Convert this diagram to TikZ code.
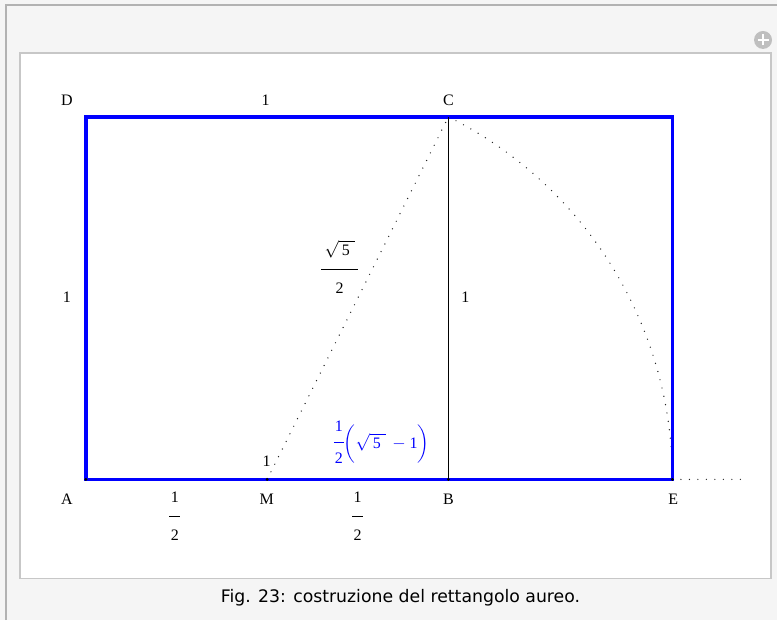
\documentclass[tikz,border=0pt]{standalone}
\usepackage{amsmath, amssymb}
\usepackage{xcolor}
\usepackage{fontspec}
\setmainfont{Liberation Serif}
\newfontfamily\captionfont{DejaVu Sans}
\usepackage{tikz}

% fraction set in three rows, bar in the middle one
\newcommand{\stackfrac}[4][1]{{\renewcommand{\arraystretch}{#1}%
  \begin{tabular}{@{}c@{}}#2\\\rule[0.3em]{#4}{0.6pt}\\#3\end{tabular}}}
\newcommand{\rootfive}{\sqrt{\,\text{5}\;}}

\begin{document}
\begin{tikzpicture}[x=1pt,y=1pt,
    lbl/.style={font=\fontsize{16}{19}\selectfont, inner sep=0pt},
    gold/.style={draw=blue, line width=3.5pt},
    dots/.style={line width=1.4pt, line cap=round, dash pattern=on 0pt off 8.5pt, black!85},
    vertex/.style={circle, fill=black, inner sep=0pt, minimum size=3.2pt}]
				% page frame
				\fill[black!4] (0,0) rectangle (778,621);
				\draw[black!30, line width=2pt] (6,0) -- (6,616) -- (778,616);
				\draw[black!22, fill=white, line width=1.5pt] (20,42) rectangle (772,568);
				\fill[black!25] (764,581) circle (9);
				\draw[white, line width=2.6pt] (758.5,581) -- (769.5,581) (764,575.5) -- (764,586.5);
				\node[font=\captionfont\fontsize{17.3}{20}\selectfont] (caption) at (401,23) {Fig. 23: costruzione del rettangolo aureo.};
				% points
				\coordinate (A) at (86,141);
				\coordinate (M) at (267.5,141);
				\coordinate (B) at (449,141);
				\coordinate (E) at (673.3,141);
				\coordinate (C) at (449,504);
				\coordinate (D) at (86,504);
				\coordinate (F) at (E |- C);
				\coordinate (X) at (742,141);
				% construction
				\draw[dots] (M) -- (C);
				\draw[dots] (C) arc[start angle=63.43, end angle=0, radius=405.8];
				\draw[dots] (E) -- (X);
				\draw[gold] (A) -- (E) -- (F) -- (D) -- cycle;
				\draw[line width=0.9pt] (C) -- (B);
				\foreach \p in {A,M,B,E} \node[vertex] (dot\p) at (\p) {};
				% labels
				\node[lbl] (lblD) at (67,521) {D};
				\node[lbl] (lblDC) at (266,521) {1};
				\node[lbl] (lblC) at (449,521) {C};
				\node[lbl] (lblAD) at (67,323) {1};
				\node[lbl] (lblBC) at (466,323) {1};
				\node[lbl] (lblMC) at (340,351) {\stackfrac{$\rootfive$}{2}{37pt}};
				\node[lbl] (lblM1) at (267,159) {1};
				\node[lbl, text=blue] (lblBE) at (382,176) {$\vcenter{\hbox{\stackfrac[0.82]{1}{2}{10pt}}}\bigg(\rootfive\,-\text{1}\bigg)$};
				\node[lbl] (lblA) at (67,121) {A};
				\node[lbl] (lblM) at (267,121) {M};
				\node[lbl] (lblB) at (449,121) {B};
				\node[lbl] (lblE) at (674,121) {E};
				\node[lbl] (lblAM) at (175,103) {\stackfrac{1}{2}{11pt}};
				\node[lbl] (lblMB) at (358,103) {\stackfrac{1}{2}{11pt}};
\end{tikzpicture}
\end{document}
